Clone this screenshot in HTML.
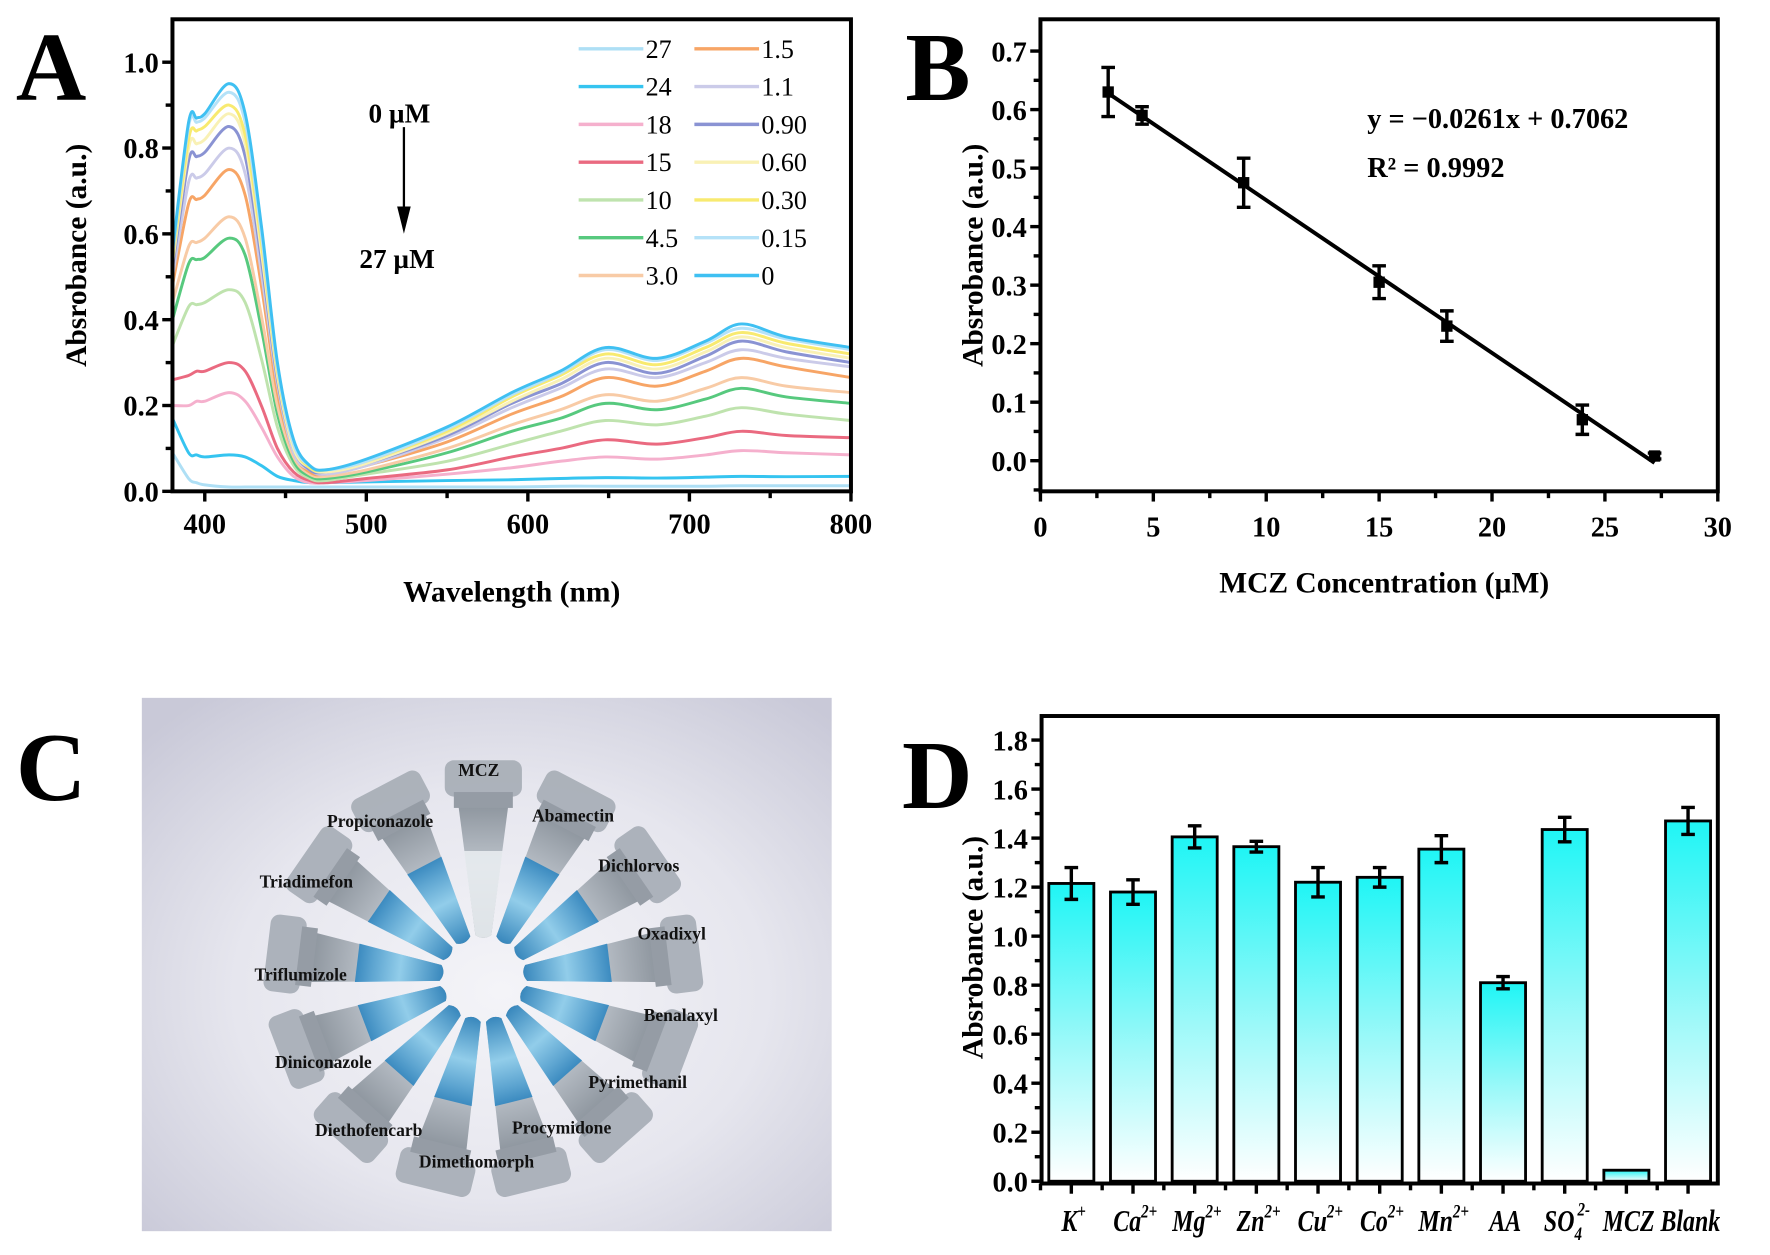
<!DOCTYPE html>
<html><head><meta charset="utf-8">
<style>
html,body{margin:0;padding:0;background:#fff;}
svg{display:block;}
text{font-family:"Liberation Serif","DejaVu Serif",serif;}
.b{font-weight:bold;}
</style></head>
<body>
<svg id="fig" xmlns="http://www.w3.org/2000/svg" width="1770" height="1255" viewBox="0 0 1560 1106" preserveAspectRatio="none">
<defs>
<linearGradient id="barGrad" x1="0" y1="0" x2="0" y2="1">
<stop offset="0" stop-color="#1ff5f5"/><stop offset="0.55" stop-color="#9ff9f9"/><stop offset="1" stop-color="#ffffff"/>
</linearGradient>
<radialGradient id="photoBg" cx="0.52" cy="0.55" r="0.7">
<stop offset="0" stop-color="#f4f4f8"/><stop offset="0.55" stop-color="#e6e6ee"/><stop offset="1" stop-color="#c9c9d8"/>
</radialGradient>
<linearGradient id="tubeGrad" x1="0" y1="0" x2="1" y2="0">
<stop offset="0" stop-color="#7f8891"/><stop offset="0.5" stop-color="#b9c0c8"/><stop offset="1" stop-color="#7d868f"/>
</linearGradient>
<linearGradient id="liqGrad" x1="0" y1="0" x2="1" y2="0">
<stop offset="0" stop-color="#2f86c0"/><stop offset="0.5" stop-color="#8fd0ef"/><stop offset="1" stop-color="#2f86c0"/>
</linearGradient>
</defs>
<text x="14" y="88" font-size="86" class="b">A</text>
<text x="798" y="88" font-size="86" class="b">B</text>
<text x="14" y="705" font-size="86" class="b">C</text>
<text x="795" y="712" font-size="86" class="b">D</text>
<g id="gA"></g>
<g id="gB"></g>
<g id="gC"></g>
<g id="gD"></g>
</svg>
<script>
// ---------- Panel A data ----------
const wlAnchors=[380,390,395,400,415,425,435,445,455,465,475,500,550,590,620,648,680,710,732,760,800];
const seriesLabels=['27','24','18','15','10','4.5','3.0','1.5','1.1','0.90','0.60','0.30','0.15','0'];
const seriesColors=['#aedff5','#35c4f0','#f5b0cd','#ea6a80','#bfe3ae','#57c97e','#f8cba6','#f7a566','#cbcbe9','#8a93d3','#f9f1b5','#f8ea70','#b5e2f8','#3fc0f2'];
const spec0=[.56,.86,.87,.88,.95,.88,.62,.30,.12,.06,.05,.075,.15,.23,.28,.335,.31,.35,.39,.36,.335];
const spec015=[.55,.85,.86,.87,.93,.86,.60,.29,.11,.06,.05,.07,.145,.225,.275,.33,.305,.345,.38,.355,.33];
const spec030=[.54,.82,.84,.85,.90,.83,.58,.28,.11,.055,.05,.07,.14,.22,.27,.32,.295,.335,.37,.345,.32];
const spec060=[.53,.80,.81,.82,.88,.81,.56,.27,.10,.055,.045,.065,.135,.21,.26,.31,.285,.325,.36,.335,.31];
const spec090=[.52,.77,.78,.79,.85,.78,.54,.26,.10,.05,.045,.065,.13,.205,.25,.30,.275,.315,.35,.325,.30];
const spec11=[.50,.72,.73,.74,.80,.74,.51,.25,.09,.05,.04,.06,.125,.195,.24,.285,.265,.30,.33,.31,.29];
const spec15=[.48,.67,.68,.69,.75,.69,.48,.23,.09,.045,.04,.06,.115,.18,.22,.265,.245,.28,.31,.29,.265];
const spec30=[.44,.57,.58,.59,.64,.59,.41,.20,.08,.04,.035,.05,.10,.155,.19,.225,.21,.24,.265,.245,.23];
const spec45=[.40,.53,.54,.545,.59,.55,.38,.18,.07,.035,.03,.045,.09,.14,.17,.205,.19,.215,.24,.22,.205];
const spec10=[.34,.43,.435,.44,.47,.44,.31,.15,.06,.03,.025,.04,.07,.11,.14,.165,.155,.175,.195,.18,.165];
const spec15u=[.26,.27,.28,.28,.30,.28,.20,.10,.045,.025,.02,.03,.05,.08,.10,.12,.11,.125,.14,.13,.125];
const spec18=[.20,.20,.21,.21,.23,.21,.15,.08,.035,.02,.02,.025,.04,.055,.07,.08,.075,.085,.095,.09,.085];
const spec24=[.17,.09,.085,.08,.085,.08,.06,.035,.025,.02,.02,.022,.025,.027,.03,.032,.031,.033,.035,.034,.035];
const spec27=[.09,.03,.02,.015,.01,.01,.01,.01,.01,.01,.01,.01,.01,.01,.012,.012,.012,.012,.013,.013,.013];
const specAll=[spec27,spec24,spec18,spec15u,spec10,spec45,spec30,spec15,spec11,spec090,spec060,spec030,spec015,spec0];
const aXTicks=[400,500,600,700,800];
const aYTicks=['0.0','0.2','0.4','0.6','0.8','1.0'];
// ---------- Panel B data ----------
const bConc=[3,4.5,9,15,18,24,27.2];
const bAbs=[.63,.59,.475,.305,.23,.07,.008];
const bErr=[.042,.015,.042,.028,.026,.025,.005];
const bSlope=-0.0261, bIntercept=0.7062;
const bXTicks=[0,5,10,15,20,25,30];
const bYTicks=['0.0','0.1','0.2','0.3','0.4','0.5','0.6','0.7'];
// ---------- Panel D data ----------
const dCats=['K','Ca','Mg','Zn','Cu','Co','Mn','AA','SO','MCZ','Blank'];
const dSups=['+','2+','2+','2+','2+','2+','2+','','2-','',''];
const dSubs=['','','','','','','','','4','',''];
const dVals=[1.215,1.18,1.405,1.365,1.22,1.24,1.355,0.81,1.435,0.045,1.47];
const dErrs=[0.065,0.05,0.045,0.022,0.06,0.04,0.055,0.025,0.05,0,0.055];
const dYTicks=['0.0','0.2','0.4','0.6','0.8','1.0','1.2','1.4','1.6','1.8'];
// ---------- Panel C labels ----------
const tubeLabels=['MCZ','Abamectin','Dichlorvos','Oxadixyl','Benalaxyl','Pyrimethanil','Procymidone','Dimethomorph','Diethofencarb','Diniconazole','Triflumizole','Triadimefon','Propiconazole'];

const NS='http://www.w3.org/2000/svg';
function mk(parent,tag,attrs,txt){const e=document.createElementNS(NS,tag);for(const k in attrs)e.setAttribute(k,attrs[k]);if(txt!==undefined)e.textContent=txt;parent.appendChild(e);return e;}
function smooth(pts){let d='M'+pts[0][0].toFixed(1)+','+pts[0][1].toFixed(1);
 for(let i=0;i<pts.length-1;i++){const p0=pts[Math.max(0,i-1)],p1=pts[i],p2=pts[i+1],p3=pts[Math.min(pts.length-1,i+2)];
  const c1x=p1[0]+(p2[0]-p0[0])/6,c1y=p1[1]+(p2[1]-p0[1])/6,c2x=p2[0]-(p3[0]-p1[0])/6,c2y=p2[1]-(p3[1]-p1[1])/6;
  d+=' C'+c1x.toFixed(1)+','+c1y.toFixed(1)+' '+c2x.toFixed(1)+','+c2y.toFixed(1)+' '+p2[0].toFixed(1)+','+p2[1].toFixed(1);}
 return d;}

// ===== Panel A =====
(function(){
const g=document.getElementById('gA');
const L=152,R=750,T=17,B=433;
const ax=w=>L+(w-380)*(R-L)/420;
const ay=v=>B-v*(B-T)/1.1;
for(let s=0;s<specAll.length;s++){
 const pts=wlAnchors.map((w,i)=>[ax(w),ay(specAll[s][i])]);
 const p=mk(g,'path',{d:smooth(pts),fill:'none',stroke:seriesColors[s],'stroke-width':2.6});
 
 
}
const fr=mk(g,'rect',{x:L,y:T,width:R-L,height:B-T,fill:'none',stroke:'#000','stroke-width':3.5});


for(let w=400;w<=800;w+=50){const major=(w%100===0);
 const t=mk(g,'line',{x1:ax(w),x2:ax(w),y1:B,y2:B+(major?9:6),stroke:'#000','stroke-width':3});
 
 }
aXTicks.forEach(w=>{const t=mk(g,'text',{x:ax(w),y:B+37,'font-size':25,'text-anchor':'middle',class:'b'},String(w));
 
 });
for(let i=0;i<=10;i++){const v=i*0.1;const major=(i%2===0);
 const t=mk(g,'line',{x1:L,x2:L-(major?9:6),y1:ay(v),y2:ay(v),stroke:'#000','stroke-width':3});
 
 }
aYTicks.forEach(s=>{const t=mk(g,'text',{x:L-12,y:ay(parseFloat(s))+9,'font-size':25,'text-anchor':'end',class:'b'},s);
 
 });
const yt=mk(g,'text',{x:0,y:0,'font-size':26,'text-anchor':'middle',class:'b',transform:'translate(76,225) rotate(-90)'},'Absrobance (a.u.)');


const xt=mk(g,'text',{x:(L+R)/2,y:530,'font-size':26,'text-anchor':'middle',class:'b'},'Wavelength (nm)');


for(let s=0;s<seriesLabels.length;s++){const col=s<7?0:1,row=s%7;
 const x0=col?612:510,yy=43+row*33.3;
 const ln=mk(g,'line',{x1:x0,x2:x0+57,y1:yy,y2:yy,stroke:seriesColors[s],'stroke-width':3});
 
 
 const tx=mk(g,'text',{x:x0+59,y:yy+8,'font-size':23},seriesLabels[s]);
 
 }
const a1=mk(g,'text',{x:352,y:108,'font-size':24,'text-anchor':'middle',class:'b'},'0 µM');


const arr=mk(g,'line',{x1:356,x2:356,y1:112,y2:185,stroke:'#000','stroke-width':2});


const ah=mk(g,'polygon',{points:'350,182 362,182 356,206',fill:'#000'});


const a2=mk(g,'text',{x:350,y:236,'font-size':24,'text-anchor':'middle',class:'b'},'27 µM');


})();

// ===== Panel B =====
(function(){
const g=document.getElementById('gB');
const L=917,R=1514,T=17,B=433;
const bx=c=>L+c*(R-L)/30;
const by=v=>406-v*(361/0.7);
const fr=mk(g,'rect',{x:L,y:T,width:R-L,height:B-T,fill:'none',stroke:'#000','stroke-width':3.5});


for(let i=0;i<=12;i++){const c=i*2.5;const major=(i%2===0);
 const t=mk(g,'line',{x1:bx(c),x2:bx(c),y1:B,y2:B+(major?9:6),stroke:'#000','stroke-width':3});
 
 }
bXTicks.forEach(c=>{const t=mk(g,'text',{x:bx(c),y:B+40,'font-size':25,'text-anchor':'middle',class:'b'},String(c));
 
 });
for(let i=-1;i<=14;i++){const v=i*0.05;const major=(i%2===0);
 const t=mk(g,'line',{x1:L,x2:L-(major?9:6),y1:by(v),y2:by(v),stroke:'#000','stroke-width':3});
 
 }
bYTicks.forEach(s=>{const t=mk(g,'text',{x:L-12,y:by(parseFloat(s))+9,'font-size':25,'text-anchor':'end',class:'b'},s);
 
 });
const fit=mk(g,'line',{x1:bx(bConc[0]),y1:by(bSlope*bConc[0]+bIntercept),x2:bx(bConc[bConc.length-1]),y2:by(bSlope*bConc[bConc.length-1]+bIntercept),stroke:'#000','stroke-width':3.5});


bConc.forEach((c,i)=>{const x=bx(c),y=by(bAbs[i]),y1=by(bAbs[i]+bErr[i]),y2=by(bAbs[i]-bErr[i]);
 const e=mk(g,'path',{d:`M${x},${y1}V${y2}M${x-6},${y1}H${x+6}M${x-6},${y2}H${x+6}`,stroke:'#000','stroke-width':3,fill:'none'});
 
 
 const m=mk(g,'rect',{x:x-5,y:y-5,width:10,height:10,fill:'#000'});
 
 });
const eq=mk(g,'text',{x:1205,y:113,'font-size':25,class:'b'},'y = \u22120.0261x + 0.7062');


const r2=mk(g,'text',{x:1205,y:156,'font-size':25,class:'b'},'R² = 0.9992');


const yt=mk(g,'text',{x:0,y:0,'font-size':26,'text-anchor':'middle',class:'b',transform:'translate(866,225) rotate(-90)'},'Absrobance (a.u.)');


const xt=mk(g,'text',{x:1220,y:522,'font-size':26,'text-anchor':'middle',class:'b'},'MCZ Concentration (µM)');


})();

// ===== Panel C (photo illustration) =====
(function(){
const g=document.getElementById('gC');
const bg=mk(g,'rect',{x:125,y:615,width:608,height:470,fill:'url(#photoBg)'});


const cx=426,cy=862;
const n=tubeLabels.length;
for(let i=0;i<n;i++){
 const ang=-90+i*360/n;
 const tg=mk(g,'g',{transform:`translate(${cx},${cy}) rotate(${ang})`});
 
 
 mk(tg,'path',{d:'M38,-7 L160,-23 L160,23 L38,7 Q33,0 38,-7Z',fill:'url(#tubeGrad)',opacity:0.9});
 mk(tg,'rect',{x:160,y:-34,width:32,height:68,rx:8,fill:'#a9afb7',opacity:0.95});
 mk(tg,'rect',{x:150,y:-26,width:14,height:52,fill:'#959ca5'});
 if(tubeLabels[i]!=='MCZ'){mk(tg,'path',{d:'M38,-7 L112,-17 L112,17 L38,7 Q33,0 38,-7Z',fill:'url(#liqGrad)',opacity:0.9});}
 else{mk(tg,'path',{d:'M38,-7 L112,-17 L112,17 L38,7 Q33,0 38,-7Z',fill:'#e8ecf0',opacity:0.9});}
}
const lp=[[422,684],[505,724],[563,768],[592,828],[600,900],[562,959],[495,999],[420,1029],[325,1001],[285,941],[265,864],[270,782],[335,729]];
tubeLabels.forEach((s,i)=>{const t=mk(g,'text',{x:lp[i][0],y:lp[i][1],'font-size':15.5,'text-anchor':'middle',class:'b',fill:'#111'},s);
 
 });
})();

// ===== Panel D =====
(function(){
const g=document.getElementById('gD');
const L=918,R=1514,T=631,B=1043;
const dy=v=>1041-v*216;
const dx=i=>L+(R-L)*(0.044+i*0.0912);
const bw=(R-L)*0.0666;
dVals.forEach((v,i)=>{
 const r=mk(g,'rect',{x:dx(i)-bw/2,y:dy(v),width:bw,height:dy(0)-dy(v),fill:'url(#barGrad)',stroke:'#000','stroke-width':2.5});
 
 
 if(dErrs[i]>0){const x=dx(i),y1=dy(v+dErrs[i]),y2=dy(v-dErrs[i]);
  const e=mk(g,'path',{d:`M${x},${y1}V${y2}M${x-6},${y1}H${x+6}M${x-6},${y2}H${x+6}`,stroke:'#000','stroke-width':3,fill:'none'});
  
  }
});
const fr=mk(g,'rect',{x:L,y:T,width:R-L,height:B-T,fill:'none',stroke:'#000','stroke-width':3.5});


for(let i=0;i<dCats.length;i++){
 const t=mk(g,'line',{x1:dx(i),x2:dx(i),y1:B,y2:B+9,stroke:'#000','stroke-width':3});
 
 
 const m=mk(g,'line',{x1:dx(i)-(R-L)*0.0456,x2:dx(i)-(R-L)*0.0456,y1:B,y2:B+6,stroke:'#000','stroke-width':3});
 
 
 const lb=mk(g,'text',{x:0,y:0,'font-size':27,'font-style':'italic','text-anchor':'middle',class:'b',transform:`translate(${dx(i)+2},${B+42}) scale(0.78,1)`});
 
 
 mk(lb,'tspan',{},dCats[i]);
 if(dSubs[i]){mk(lb,'tspan',{'font-size':17,dy:8},dSubs[i]);mk(lb,'tspan',{'font-size':17,dy:-22,dx:-5},dSups[i]);}
 else if(dSups[i]){mk(lb,'tspan',{'font-size':17,dy:-12},dSups[i]);}
}
for(let i=0;i<=18;i++){const v=i*0.1;const major=(i%2===0);
 const t=mk(g,'line',{x1:L,x2:L-(major?9:6),y1:dy(v),y2:dy(v),stroke:'#000','stroke-width':3});
 
 }
dYTicks.forEach(s=>{const t=mk(g,'text',{x:L-12,y:dy(parseFloat(s))+9,'font-size':25,'text-anchor':'end',class:'b'},s);
 
 });
const yt=mk(g,'text',{x:0,y:0,'font-size':26,'text-anchor':'middle',class:'b',transform:'translate(866,835) rotate(-90)'},'Absrobance (a.u.)');


})();
</script>
</body></html>
